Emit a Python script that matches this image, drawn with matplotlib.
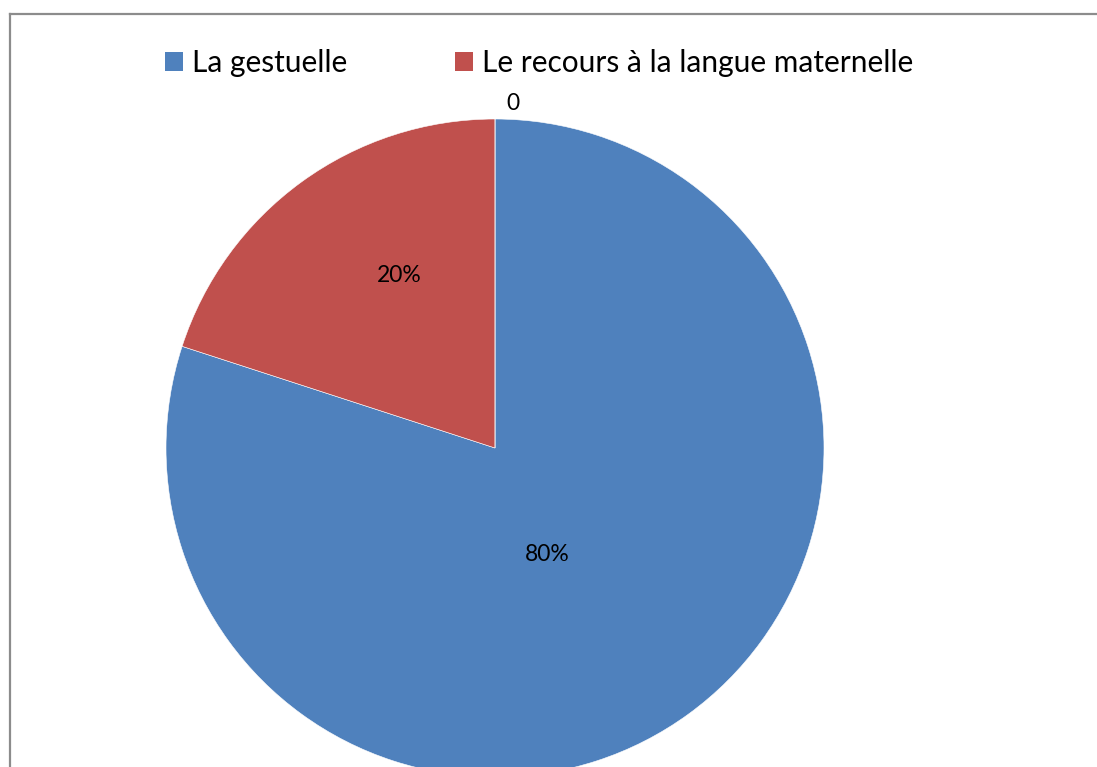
import numpy as np
import matplotlib
matplotlib.use("Agg")
import matplotlib.pyplot as plt
from matplotlib.patches import Patch
from matplotlib.lines import Line2D

W, H = 1097, 767
DPI = 100

categories = ["La gestuelle", "Le recours à la langue maternelle"]
values = [0.80, 0.20, 0.0]
value_labels = ["80%", "20%", "0"]
colors = ["#4F81BD", "#C0504D", "#9BBB59"]

plt.rcParams["font.family"] = ["Lato", "DejaVu Sans"]

fig = plt.figure(figsize=(W / DPI, H / DPI), dpi=DPI)
fig.patch.set_facecolor("white")

# pie box in pixels: centre (495, 448), radius 329
cx, cy, r = 495, 448, 329
ax = fig.add_axes([(cx - r) / W, (H - cy - r) / H, 2 * r / W, 2 * r / H])
wedges, _ = ax.pie(values, colors=colors, startangle=90, counterclock=False,
                   radius=1.0, wedgeprops=dict(edgecolor="white", linewidth=0.4))
ax.set_xlim(-1, 1)
ax.set_ylim(-1, 1)
ax.set_aspect("equal")
ax.axis("off")

# label placement (radius, angle shift in degrees) per slice
label_place = [(0.36, -10), (0.60, -7), (1.05, -3)]
for w, lab, (rad, shift) in zip(wedges, value_labels, label_place):
    mid = np.deg2rad((w.theta1 + w.theta2) / 2 + shift)
    ax.text(rad * np.cos(mid), rad * np.sin(mid), lab, ha="center", va="center",
            fontsize=16.5, color="black", clip_on=False)

handles = [Patch(facecolor=c, edgecolor="none") for c in colors[:2]]
fig.legend(handles, categories, loc="center", bbox_to_anchor=(539 / W, 1 - 63 / H),
           ncol=2, frameon=False, fontsize=21.5, handlelength=0.6, handleheight=0.6,
           handletextpad=0.3, columnspacing=3.6)

# chart area border (runs off right and bottom edge)
bx, by = 9.5 / W, 1 - 14 / H
fig.add_artist(Line2D([bx, bx], [by, -0.1], color="#8c8c8c", linewidth=1.6,
                      transform=fig.transFigure))
fig.add_artist(Line2D([bx, 1.1], [by, by], color="#8c8c8c", linewidth=1.6,
                      transform=fig.transFigure))

fig.savefig("out.png", dpi=DPI, facecolor="white")
